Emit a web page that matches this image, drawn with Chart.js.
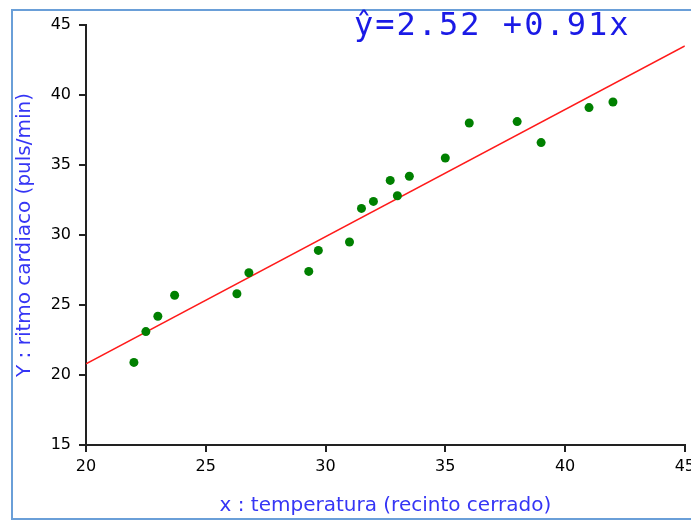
<!DOCTYPE html>
<html>
<head>
<meta charset="utf-8">
<script src="https://cdn.jsdelivr.net/npm/chart.js@4.4.1/dist/chart.umd.min.js"></script>
<style>
    html, body { margin: 0; padding: 0; background: #fff; overflow: hidden; }
    #frame {
        position: absolute; left: 11px; top: 9px; width: 700px; height: 507px;
        border: 2px solid #6a9fd8; border-right: none;
    }
    #wrap { position: absolute; left: 0; top: 0; width: 700px; height: 520px; }
</style>
</head>
<body>
<div id="frame"></div>
<div id="wrap"><canvas id="chart" width="700" height="520"></canvas></div>
<script>
// temperature (x) vs heart rate (y)
const temperatura = [22, 22.5, 23, 23.7, 26.3, 26.8, 29.3, 29.7, 31, 31.5, 32, 32.7, 33, 33.5, 35, 36, 38, 39, 41, 42];
const ritmo = [20.9, 23.1, 24.2, 25.7, 25.8, 27.3, 27.4, 28.9, 29.5, 31.9, 32.4, 33.9, 32.8, 34.2, 35.5, 38.0, 38.1, 36.6, 39.1, 39.5];

// regression line end points
const rectaX = [20, 45];
const rectaY = [20.8, 43.5];

const xTicks = [20, 25, 30, 35, 40, 45];
const yTicks = [15, 20, 25, 30, 35, 40, 45];

const ecuacion = 'ŷ=2.52 +0.91x';
const tituloX = 'x : temperatura (recinto cerrado)';
const tituloY = 'Y : ritmo cardiaco (puls/min)';

// equation text at the top
const equationPlugin = {
    id: 'equation',
    afterDraw(chart) {
        const ctx = chart.ctx;
        ctx.save();
        ctx.font = '32px "DejaVu Sans Mono"';
        ctx.fillStyle = '#1a1ae6';
        ctx.letterSpacing = '2px';
        ctx.textBaseline = 'alphabetic';
        ctx.textAlign = 'left';
        ctx.fillText(ecuacion, 354, 35);
        ctx.restore();
    }
};

const axisFont = { family: 'DejaVu Sans', size: 16 };
const titleFont = { family: 'DejaVu Sans', size: 20 };

new Chart(document.getElementById('chart').getContext('2d'), {
    type: 'scatter',
    data: {
        datasets: [{
            type: 'scatter',
            data: temperatura.map((x, i) => ({ x: x, y: ritmo[i] })),
            backgroundColor: '#008000',
            borderWidth: 0,
            pointRadius: 4.5,
            order: 1
        }, {
            type: 'line',
            data: rectaX.map((x, i) => ({ x: x, y: rectaY[i] })),
            borderColor: '#ff1a1a',
            borderWidth: 1.5,
            pointRadius: 0,
            fill: false,
            order: 2
        }]
    },
    options: {
        responsive: false,
        animation: false,
        devicePixelRatio: 1,
        layout: { padding: { top: 25, right: 14, left: 0, bottom: 0 } },
        plugins: {
            legend: { display: false },
            tooltip: { enabled: false }
        },
        scales: {
            x: {
                type: 'linear',
                min: 20,
                max: 45,
                afterBuildTicks(scale) { scale.ticks = xTicks.map(v => ({ value: v })); },
                afterFit(scale) { scale.height = 75; },
                ticks: { font: axisFont, color: '#000', padding: 5, maxRotation: 0 },
                grid: { drawOnChartArea: false, drawTicks: true, tickLength: 7, color: '#222', lineWidth: 2 },
                border: { color: '#222', width: 2 },
                title: { display: true, text: tituloX, color: '#3535f5', font: titleFont, padding: { top: 0, bottom: 2 } }
            },
            y: {
                type: 'linear',
                min: 15,
                max: 45,
                afterBuildTicks(scale) { scale.ticks = yTicks.map(v => ({ value: v })); },
                afterFit(scale) { scale.width = 86; },
                ticks: { font: axisFont, color: '#000', padding: 8 },
                grid: { drawOnChartArea: false, drawTicks: true, tickLength: 7, color: '#222', lineWidth: 2 },
                border: { color: '#222', width: 2 },
                title: { display: true, text: tituloY, color: '#3535f5', font: titleFont, padding: { top: 13, bottom: 0 } }
            }
        }
    },
    plugins: [equationPlugin]
});
</script>
</body>
</html>
